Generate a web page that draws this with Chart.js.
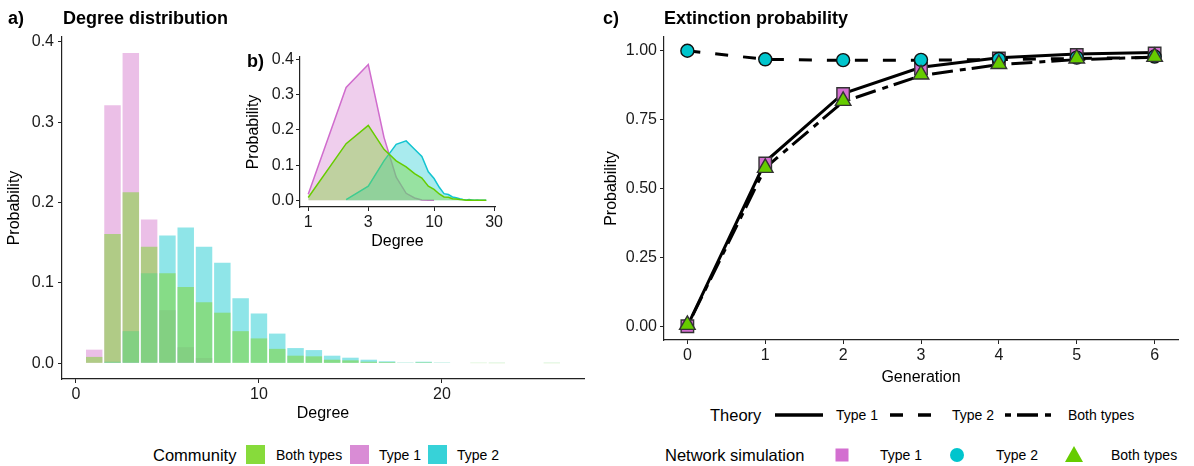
<!DOCTYPE html>
<html>
<head>
<meta charset="utf-8">
<script src="https://cdn.jsdelivr.net/npm/chart.js@4.4.1/dist/chart.umd.min.js"></script>
<style>
  body { margin: 0; background: #fff; font-family: "Liberation Sans", Arial, sans-serif; }
  #wrap { position: relative; width: 1194px; height: 466px; overflow: hidden; background: #fff; }
  canvas { position: absolute; }
  .t { position: absolute; white-space: nowrap; color: #000; line-height: 1; transform: translateY(-50%); }
  .bold { font-weight: bold; font-size: 18px; }
  .ttl { font-size: 16.5px; }
  .itm { font-size: 14px; }
  .key { position: absolute; }
</style>
</head>
<body>
<div id="wrap">
  <canvas id="histA" width="600" height="425" style="left:0;top:0"></canvas>
  <canvas id="insetB" width="275" height="215" style="left:235px;top:40px"></canvas>
  <canvas id="extC" width="594" height="392" style="left:600px;top:0"></canvas>

  <div class="t bold" style="left:8px;top:18px">a)</div>
  <div class="t bold" style="left:63px;top:18px">Degree distribution</div>
  <div class="t bold" style="left:247px;top:61px">b)</div>
  <div class="t bold" style="left:603px;top:18px">c)</div>
  <div class="t bold" style="left:664px;top:18px">Extinction probability</div>

  <!-- legend a -->
  <div class="t ttl" style="left:153px;top:455px">Community</div>
  <div class="key" style="left:246px;top:445px;width:19px;height:19px;background:#87DB3B"></div>
  <div class="t itm" style="left:276px;top:455px">Both types</div>
  <div class="key" style="left:350px;top:445px;width:19px;height:19px;background:#D98CD5"></div>
  <div class="t itm" style="left:379px;top:455px">Type 1</div>
  <div class="key" style="left:428px;top:445px;width:19px;height:19px;background:#37D2D8"></div>
  <div class="t itm" style="left:457px;top:455px">Type 2</div>

  <!-- legend c -->
  <div class="t ttl" style="left:710px;top:415px">Theory</div>
  <svg class="key" style="left:775px;top:408px" width="48" height="14"><line x1="0" y1="7" x2="48" y2="7" stroke="#000" stroke-width="3.5"/></svg>
  <div class="t itm" style="left:836px;top:415px">Type 1</div>
  <svg class="key" style="left:890px;top:408px" width="44" height="14"><line x1="0" y1="7" x2="44" y2="7" stroke="#000" stroke-width="3.5" stroke-dasharray="13,15"/></svg>
  <div class="t itm" style="left:952px;top:415px">Type 2</div>
  <svg class="key" style="left:1005px;top:408px" width="48" height="14"><line x1="0" y1="7" x2="48" y2="7" stroke="#000" stroke-width="3.5" stroke-dasharray="6,6,21,7"/></svg>
  <div class="t itm" style="left:1068px;top:415px">Both types</div>

  <div class="t ttl" style="left:665px;top:455px">Network simulation</div>
  <svg class="key" style="left:835px;top:448px" width="14" height="14"><rect x="0.5" y="0.5" width="13" height="13" fill="#D36FD0"/></svg>
  <div class="t itm" style="left:880px;top:455px">Type 1</div>
  <svg class="key" style="left:950px;top:448px" width="14" height="14"><circle cx="7" cy="7" r="7" fill="#00C5CD"/></svg>
  <div class="t itm" style="left:996px;top:455px">Type 2</div>
  <svg class="key" style="left:1065px;top:446px" width="18" height="16"><polygon points="9,0 18,16 0,16" fill="#66CC00"/></svg>
  <div class="t itm" style="left:1111px;top:455px">Both types</div>
</div>

<script>
// degree distribution (panels a and b)
const degrees = [1, 2, 3, 4, 5, 6, 7, 8, 9, 10, 11, 12, 13, 14, 15, 16, 17, 18, 19, 20, 21, 22, 23, 24, 25, 26];
const probBoth = [0.008, 0.161, 0.213, 0.145, 0.112, 0.095, 0.076, 0.063, 0.040, 0.031, 0.018, 0.0095, 0.0087, 0.0045, 0.0037, 0.002, 0.0015, 0.0005, 0.0012, 0.0005, 0, 0.0003, 0.0002, 0, 0, 0.0002];
const probType1 = [0.017, 0.321, 0.386, 0.179, 0.066, 0.020, 0.0066, 0.001, 0, 0, null, null, null, null, null, null, null, null, null, null, null, null, null, null, null, null];
const probType2 = [null, 0.002, 0.040, 0.112, 0.159, 0.169, 0.145, 0.125, 0.081, 0.062, 0.037, 0.019, 0.0165, 0.0095, 0.007, 0.0045, 0.0025, 0.001, 0.002, 0.001, 0, 0.0007, 0.0005, 0, 0, 0.0005];
const xTicksA = [0, 10, 20];
const yTicksA = [0, 0.1, 0.2, 0.3, 0.4];
const xTicksB = [1, 3, 10, 30];
const yTicksB = [0, 0.1, 0.2, 0.3, 0.4];

// extinction probability (panel c)
const generations = [0, 1, 2, 3, 4, 5, 6];
const theoryType1 = [0, 0.597, 0.845, 0.94, 0.975, 0.988, 0.994];
const theoryType2 = [1.0, 0.969, 0.965, 0.966, 0.968, 0.972, 0.976];
const theoryBoth = [0, 0.575, 0.815, 0.91, 0.95, 0.968, 0.977];
const simType1 = [0, 0.591, 0.843, 0.936, 0.972, 0.985, 0.99];
const simType2 = [1.0, 0.969, 0.966, 0.967, 0.97, 0.975, 0.979];
const simBoth = [0.005, 0.575, 0.818, 0.914, 0.952, 0.972, 0.978];
const yTicksC = [0, 0.25, 0.5, 0.75, 1];

const FONT = '"Liberation Sans", Arial, sans-serif';
const tickFont = { family: FONT, size: 16 };
const titleFont = { family: FONT, size: 16 };

function pts(xs, ys) {
  return xs.map((x, i) => ({ x: x, y: ys[i] })).filter(p => p.y !== null && p.y !== undefined);
}

function axis(extra) {
  return Object.assign({
    offset: false,
    grid: { display: true, drawOnChartArea: false, drawTicks: true, tickLength: 4, color: '#222', offset: false },
    border: { display: true, color: '#222', width: 1.2 },
    ticks: { color: '#1a1a1a', font: tickFont, padding: 2, maxRotation: 0, autoSkip: false }
  }, extra);
}

const common = {
  responsive: false,
  animation: false,
  devicePixelRatio: 1,
  plugins: { legend: { display: false }, tooltip: { enabled: false } }
};

// a) histogram
new Chart(document.getElementById('histA'), {
  type: 'bar',
  data: {
    datasets: [
      { label: 'Both types', data: pts(degrees, probBoth), backgroundColor: 'rgba(127,214,55,0.55)' },
      { label: 'Type 2', data: pts(degrees, probType2), backgroundColor: 'rgba(51,207,214,0.55)' },
      { label: 'Type 1', data: pts(degrees, probType1), backgroundColor: 'rgba(218,139,212,0.55)' }
    ]
  },
  options: Object.assign({}, common, {
    layout: { padding: { top: 37, right: 16, left: 0, bottom: 0 } },
    datasets: { bar: { grouped: false, barPercentage: 0.9, categoryPercentage: 1, borderWidth: 0 } },
    scales: {
      x: axis({
        type: 'linear', min: -0.76, max: 27.76,
        afterBuildTicks: s => { s.ticks = xTicksA.map(v => ({ value: v })); },
        afterFit: s => { s.height = 46; },
        title: { display: true, text: 'Degree', color: '#000', font: titleFont, padding: { top: 0, bottom: 2 } }
      }),
      y: axis({
        type: 'linear', min: -0.0195, max: 0.406,
        afterBuildTicks: s => { s.ticks = yTicksA.map(v => ({ value: v })); },
        afterFit: s => { s.width = 62; },
        ticks: { color: '#1a1a1a', font: tickFont, padding: 4, callback: v => v.toFixed(1) },
        title: { display: true, text: 'Probability', color: '#000', font: titleFont, padding: { top: 5, bottom: 0 } }
      })
    }
  })
});

// b) inset, log degree
new Chart(document.getElementById('insetB'), {
  type: 'line',
  data: {
    datasets: [
      { label: 'Both types', data: pts(degrees, probBoth), borderColor: '#66CC00', backgroundColor: 'rgba(127,214,55,0.42)', fill: 'origin' },
      { label: 'Type 2', data: pts(degrees, probType2), borderColor: '#12C4D0', backgroundColor: 'rgba(51,207,214,0.42)', fill: 'origin' },
      { label: 'Type 1', data: pts(degrees, probType1), borderColor: '#D06CCD', backgroundColor: 'rgba(218,139,212,0.42)', fill: 'origin' }
    ]
  },
  options: Object.assign({}, common, {
    layout: { padding: { top: 17, right: 15, left: 0, bottom: 0 } },
    elements: { point: { radius: 0 }, line: { borderWidth: 1.5, tension: 0 } },
    scales: {
      x: axis({
        type: 'logarithmic', min: 0.86, max: 30.5,
        afterBuildTicks: s => { s.ticks = xTicksB.map(v => ({ value: v })); },
        afterFit: s => { s.height = 48; },
        ticks: { color: '#1a1a1a', font: tickFont, padding: 2, maxRotation: 0, autoSkip: false, callback: v => String(v) },
        title: { display: true, text: 'Degree', color: '#000', font: titleFont, padding: { top: 0, bottom: 4 } }
      }),
      y: axis({
        type: 'linear', min: -0.019, max: 0.4074,
        afterBuildTicks: s => { s.ticks = yTicksB.map(v => ({ value: v })); },
        afterFit: s => { s.width = 65; },
        ticks: { color: '#1a1a1a', font: tickFont, padding: 2, callback: v => v.toFixed(1) },
        title: { display: true, text: 'Probability', color: '#000', font: titleFont, padding: { top: 9, bottom: 0 } }
      })
    }
  })
});

// c) extinction probability
const markerBorder = '#333';
new Chart(document.getElementById('extC'), {
  type: 'line',
  data: {
    datasets: [
      { label: 'Sim both', data: pts(generations, simBoth), showLine: false, order: 1,
        pointStyle: 'triangle', pointRadius: 9, pointBackgroundColor: '#66CC00', pointBorderColor: markerBorder, pointBorderWidth: 1.4 },
      { label: 'Sim type 2', data: pts(generations, simType2), showLine: false, order: 2,
        pointStyle: 'circle', pointRadius: 6.5, pointBackgroundColor: '#00C5CD', pointBorderColor: '#111', pointBorderWidth: 1.4 },
      { label: 'Sim type 1', data: pts(generations, simType1), showLine: false, order: 3,
        pointStyle: 'rect', pointRadius: 8.8, pointBackgroundColor: '#D36FD0', pointBorderColor: markerBorder, pointBorderWidth: 1.4 },
      { label: 'Theory type 1', data: pts(generations, theoryType1), order: 4,
        borderColor: '#000', borderWidth: 3, pointRadius: 0, fill: false },
      { label: 'Theory type 2', data: pts(generations, theoryType2), order: 5,
        borderColor: '#000', borderWidth: 3, borderDash: [13, 15], pointRadius: 0, fill: false },
      { label: 'Theory both', data: pts(generations, theoryBoth), order: 6,
        borderColor: '#000', borderWidth: 3, borderDash: [6, 6, 21, 7], pointRadius: 0, fill: false }
    ]
  },
  options: Object.assign({}, common, {
    layout: { padding: { top: 37, right: 16, left: 0, bottom: 0 } },
    elements: { line: { tension: 0 } },
    scales: {
      x: axis({
        type: 'linear', min: -0.3, max: 6.3,
        afterBuildTicks: s => { s.ticks = generations.map(v => ({ value: v })); },
        afterFit: s => { s.height = 52; },
        title: { display: true, text: 'Generation', color: '#000', font: titleFont, padding: { top: 0, bottom: 5 } }
      }),
      y: axis({
        type: 'linear', min: -0.05, max: 1.05,
        afterBuildTicks: s => { s.ticks = yTicksC.map(v => ({ value: v })); },
        afterFit: s => { s.width = 64; },
        ticks: { color: '#1a1a1a', font: tickFont, padding: 3, callback: v => v.toFixed(2) },
        title: { display: true, text: 'Probability', color: '#000', font: titleFont, padding: { top: 2, bottom: 0 } }
      })
    }
  })
});
</script>
</body>
</html>
